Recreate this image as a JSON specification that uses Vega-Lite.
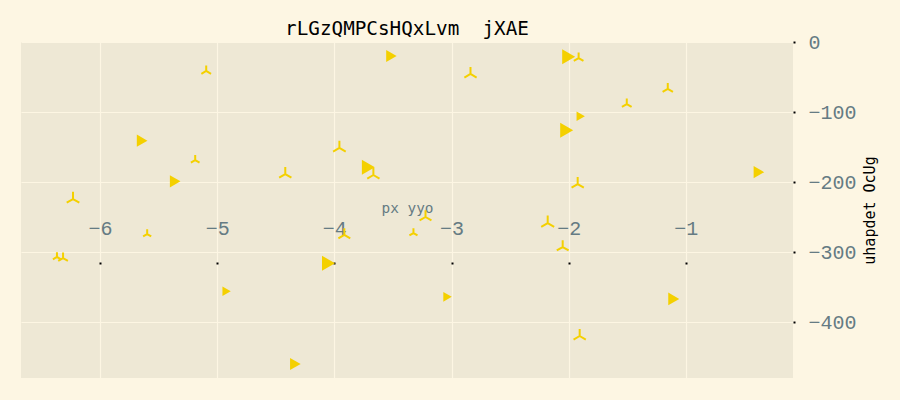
{
  "$schema": "https://vega.github.io/schema/vega-lite/v6.json",
  "width": 772,
  "height": 336,
  "autosize": "none",
  "padding": {"left": 21, "top": 42, "right": 107, "bottom": 22},
  "background": "#fdf6e3",
  "title": {"text": "rLGzQMPCsHQxLvm \u00a0jXAE", "font": "DejaVu Sans Mono", "fontSize": 19.3, "fontWeight": "normal", "color": "#000000", "anchor": "middle", "offset": -7},
  "config": {"view": {"fill": "#eee8d5", "stroke": null}},
  "data": {
    "values": [
      {"k": "tri-r", "x": -3.513, "y": -20, "m": 5.8},
      {"k": "tri-r", "x": -2.0, "y": -21, "m": 9},
      {"k": "tri-r", "x": -5.641, "y": -141, "m": 6},
      {"k": "tri-r", "x": -5.359, "y": -199, "m": 6},
      {"k": "tri-r", "x": -3.71, "y": -179, "m": 9},
      {"k": "tri-r", "x": -2.017, "y": -126, "m": 9},
      {"k": "tri-r", "x": -1.897, "y": -106, "m": 3.7},
      {"k": "tri-r", "x": -0.376, "y": -186, "m": 6},
      {"k": "tri-r", "x": -4.05, "y": -316, "m": 9},
      {"k": "tri-r", "x": -4.92, "y": -356, "m": 3.7},
      {"k": "tri-r", "x": -3.034, "y": -364, "m": 3.8},
      {"k": "tri-r", "x": -1.103, "y": -367, "m": 6.5},
      {"k": "tri-r", "x": -4.333, "y": -460, "m": 6},
      {"k": "tri", "x": -5.094, "y": -41.4, "m": 5},
      {"k": "tri", "x": -2.838, "y": -45.7, "m": 8},
      {"k": "tri", "x": -1.915, "y": -22.9, "m": 5},
      {"k": "tri", "x": -1.504, "y": -88.6, "m": 5},
      {"k": "tri", "x": -1.154, "y": -67.1, "m": 5.7},
      {"k": "tri", "x": -5.188, "y": -168.6, "m": 4},
      {"k": "tri", "x": -3.957, "y": -151.4, "m": 8.5},
      {"k": "tri", "x": -4.419, "y": -188.6, "m": 8},
      {"k": "tri", "x": -3.667, "y": -190, "m": 8},
      {"k": "tri", "x": -6.231, "y": -224.3, "m": 8.5},
      {"k": "tri", "x": -1.923, "y": -202.9, "m": 8},
      {"k": "tri", "x": -2.179, "y": -258.6, "m": 9},
      {"k": "tri", "x": -2.051, "y": -292.9, "m": 7.5},
      {"k": "tri", "x": -3.222, "y": -250, "m": 7.5},
      {"k": "tri", "x": -3.325, "y": -272.9, "m": 3.5},
      {"k": "tri", "x": -3.915, "y": -275.7, "m": 7.5},
      {"k": "tri", "x": -5.598, "y": -274.3, "m": 3.5},
      {"k": "tri", "x": -6.368, "y": -307.1, "m": 3.5},
      {"k": "tri", "x": -6.316, "y": -308.6, "m": 5},
      {"k": "tri", "x": -1.906, "y": -420, "m": 8}
    ]
  },
  "encoding": {
    "x": {
      "field": "x", "type": "quantitative",
      "scale": {"domain": [-6.675, -0.085], "nice": false, "zero": false},
      "axis": {
        "orient": "top", "offset": -222, "values": [-6, -5, -4, -3, -2, -1],
        "title": "px yyo", "titleFont": "DejaVu Sans Mono", "titleFontSize": 14.4, "titleColor": "#657b83", "titleFontWeight": "normal", "titlePadding": 3,
        "labelFont": "Liberation Mono", "labelFontSize": 20, "labelColor": "#657b83", "labelPadding": 24,
        "tickSize": 2, "tickWidth": 2, "tickColor": "#000000",
        "domain": false, "grid": true, "gridColor": "#fdf6e3", "gridWidth": 1.2
      }
    },
    "y": {
      "field": "y", "type": "quantitative",
      "scale": {"domain": [-480, 0], "nice": false, "zero": false},
      "axis": {
        "orient": "right", "values": [0, -100, -200, -300, -400],
        "title": "uhapdet OcUg", "titleFont": "DejaVu Sans Mono", "titleFontSize": 15, "titleColor": "#000000", "titleFontWeight": "normal", "titleAngle": 270, "titlePadding": 21,
        "labelFont": "Liberation Mono", "labelFontSize": 20, "labelColor": "#657b83", "labelPadding": 13,
        "tickSize": 2, "tickWidth": 2, "tickColor": "#000000",
        "domain": false, "grid": true, "gridColor": "#fdf6e3", "gridWidth": 1.2
      }
    },
    "size": {"field": "m", "type": "quantitative", "scale": {"domain": [0, 10], "range": [0, 250]}, "legend": null}
  },
  "layer": [
    {
      "transform": [{"filter": "datum.k === 'tri'"}],
      "mark": {"type": "point", "shape": "M0,0L0,-1M0,0L-0.866,0.5M0,0L0.866,0.5", "filled": false, "stroke": "#f4d000", "strokeWidth": 2, "opacity": 1}
    },
    {
      "transform": [{"filter": "datum.k === 'tri-r'"}],
      "mark": {"type": "point", "shape": "triangle-right", "filled": true, "fill": "#f4d000", "strokeWidth": 0, "opacity": 1}
    }
  ]
}
